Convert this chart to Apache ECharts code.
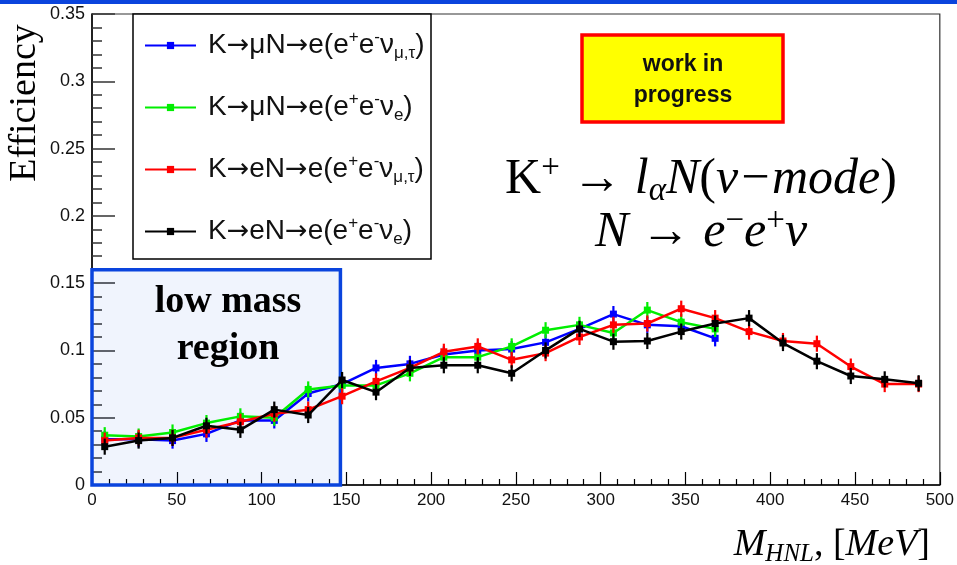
<!DOCTYPE html>
<html>
<head>
<meta charset="utf-8">
<script src="https://cdn.jsdelivr.net/npm/echarts@6/dist/echarts.min.js"></script>
<style>
  html, body { margin: 0; padding: 0; background: #fff; }
  #chart { width: 957px; height: 565px; }
</style>
</head>
<body>
<div id="chart"></div>
<script>
// HNL mass bin centres [MeV]
const masses = [7.5, 27.5, 47.5, 67.5, 87.5, 107.5, 127.5, 147.5, 167.5, 187.5,
  207.5, 227.5, 247.5, 267.5, 287.5, 307.5, 327.5, 347.5, 367.5, 387.5,
  407.5, 427.5, 447.5, 467.5, 487.5];

// Efficiency per channel (K→μN channels stop at 367.5 MeV)
const effMuNuMuTau = [0.034, 0.034, 0.033, 0.038, 0.048, 0.048, 0.068, 0.075, 0.087, 0.090,
  0.097, 0.100, 0.101, 0.106, 0.116, 0.127, 0.119, 0.118, 0.109];
const effMuNuE = [0.037, 0.036, 0.039, 0.046, 0.051, 0.050, 0.071, 0.074, 0.074, 0.083,
  0.095, 0.095, 0.103, 0.115, 0.119, 0.113, 0.130, 0.121, 0.116];
const effENuMuTau = [0.033, 0.035, 0.035, 0.041, 0.047, 0.053, 0.056, 0.066, 0.077, 0.087,
  0.099, 0.103, 0.093, 0.098, 0.110, 0.119, 0.120, 0.131, 0.124, 0.114,
  0.107, 0.105, 0.088, 0.075, 0.075];
const effENuE = [0.0285, 0.033, 0.035, 0.044, 0.041, 0.056, 0.052, 0.078, 0.069, 0.087,
  0.089, 0.089, 0.083, 0.100, 0.116, 0.1065, 0.107, 0.114, 0.120, 0.124,
  0.1055, 0.092, 0.081, 0.0785, 0.0756];

// statistical uncertainty (half length of the error bars)
const effErr = 0.006;

const seriesNames = ['K→μN→e(e⁺e⁻ν μ,τ)', 'K→μN→e(e⁺e⁻ν e)', 'K→eN→e(e⁺e⁻ν μ,τ)', 'K→eN→e(e⁺e⁻ν e)'];
const legendRich = {
  'K→μN→e(e⁺e⁻ν μ,τ)': '{n|K}{a|→}{n|μN}{a|→}{n|e(e}{sp|+}{n|e}{sp|-}{n|ν}{sb|μ,τ}{n|)}',
  'K→μN→e(e⁺e⁻ν e)': '{n|K}{a|→}{n|μN}{a|→}{n|e(e}{sp|+}{n|e}{sp|-}{n|ν}{sb|e}{n|)}',
  'K→eN→e(e⁺e⁻ν μ,τ)': '{n|K}{a|→}{n|eN}{a|→}{n|e(e}{sp|+}{n|e}{sp|-}{n|ν}{sb|μ,τ}{n|)}',
  'K→eN→e(e⁺e⁻ν e)': '{n|K}{a|→}{n|eN}{a|→}{n|e(e}{sp|+}{n|e}{sp|-}{n|ν}{sb|e}{n|)}'
};
const channelValues = [effMuNuMuTau, effMuNuE, effENuMuTau, effENuE];
const channelColors = ['#0000ff', '#00ee00', '#ff0000', '#000000'];

// low-mass region box extent in data units
const lowMassX = [0, 146.5];
const lowMassY = [0, 0.16];

const chart = echarts.init(document.getElementById('chart'), null, { renderer: 'canvas' });

const series = [];
// shaded low-mass region, drawn underneath the curves
series.push({
  type: 'line',
  name: 'lowMassBox',
  data: [],
  silent: true,
  z: 1,
  markArea: {
    silent: true,
    itemStyle: { color: 'rgba(0,64,221,0.06)', borderColor: '#0a44dd', borderWidth: 3.5 },
    data: [[{ coord: [lowMassX[0], lowMassY[0]] }, { coord: [lowMassX[1], lowMassY[1]] }]]
  }
});

channelValues.forEach((vals, k) => {
  const pts = vals.map((v, i) => [masses[i], v]);
  series.push({
    type: 'line',
    name: seriesNames[k],
    data: pts,
    symbol: 'rect',
    symbolSize: 7,
    z: 3 + k,
    lineStyle: { color: channelColors[k], width: 2.5 },
    itemStyle: { color: channelColors[k] }
  });
  series.push({
    type: 'custom',
    name: seriesNames[k] + ' err',
    data: vals.map((v, i) => [masses[i], v - effErr, v + effErr]),
    encode: { x: 0, y: [1, 2] },
    z: 3 + k,
    silent: true,
    renderItem: function (params, api) {
      const lo = api.coord([api.value(0), api.value(1)]);
      const hi = api.coord([api.value(0), api.value(2)]);
      return {
        type: 'line',
        shape: { x1: lo[0], y1: lo[1], x2: hi[0], y2: hi[1] },
        style: { stroke: channelColors[k], lineWidth: 2.2 }
      };
    }
  });
});

const supStyle = { fontSize: 17, lineHeight: 15, verticalAlign: 'top', fontFamily: 'Liberation Sans', color: '#111' };
const subStyle = { fontSize: 17, lineHeight: 15, verticalAlign: 'bottom', fontFamily: 'Liberation Sans', color: '#111' };

const fSerif = 'Liberation Serif';
const mathRich = {
  u: { fontSize: 50, lineHeight: 56, fontFamily: fSerif, color: '#000' },
  i: { fontSize: 50, lineHeight: 56, fontFamily: fSerif, fontStyle: 'italic', color: '#000' },
  sp: { fontSize: 33, lineHeight: 32, verticalAlign: 'top', fontFamily: fSerif, color: '#000' },
  sb: { fontSize: 33, lineHeight: 32, verticalAlign: 'bottom', fontFamily: fSerif, fontStyle: 'italic', color: '#000' }
};

chart.setOption({
  animation: false,
  backgroundColor: '#ffffff',
  grid: { left: 92, right: 15, top: 14, bottom: 80, show: true, borderColor: '#333', borderWidth: 1.2, backgroundColor: 'transparent' },
  xAxis: {
    type: 'value', min: 0, max: 500, interval: 50,
    axisLine: { lineStyle: { color: '#000', width: 1.5 } },
    axisTick: { inside: true, length: 13, lineStyle: { color: '#000', width: 1.2 } },
    minorTick: { show: true, splitNumber: 5, length: 6, lineStyle: { color: '#000', width: 1.2 } },
    axisLabel: { margin: 7, fontSize: 17, color: '#111', fontFamily: 'Liberation Sans' },
    splitLine: { show: false }
  },
  yAxis: {
    type: 'value', min: 0, max: 0.35, interval: 0.05,
    axisLine: { show: true, lineStyle: { color: '#000', width: 1.5 } },
    axisTick: { inside: true, length: 23, lineStyle: { color: '#333', width: 1.5 } },
    minorTick: { show: true, splitNumber: 5, length: 10, lineStyle: { color: '#333', width: 1.5 } },
    axisLabel: { margin: 7, fontSize: 18, color: '#111', fontFamily: 'Liberation Sans' },
    splitLine: { show: false }
  },
  legend: {
    data: seriesNames,
    orient: 'vertical',
    left: 144,
    top: 29,
    z: 20,
    itemWidth: 51,
    itemHeight: 9,
    itemGap: 29,
    padding: 0,
    selectedMode: false,
    formatter: function (name) { return legendRich[name]; },
    textStyle: {
      padding: [0, 0, 0, 7],
      rich: {
        n: { fontSize: 28, lineHeight: 33, fontFamily: 'Liberation Sans', color: '#111' },
        a: { fontSize: 27, lineHeight: 33, fontFamily: 'DejaVu Sans', color: '#111' },
        sp: supStyle,
        sb: subStyle
      }
    }
  },
  graphic: [
    // header rule
    { type: 'rect', shape: { x: 0, y: 0, width: 957, height: 4 }, style: { fill: '#0a44dd' }, z: 10 },
    // legend frame
    { type: 'rect', shape: { x: 133, y: 14, width: 298, height: 245 }, style: { fill: '#ffffff', stroke: '#000', lineWidth: 1.5 }, z: 15 },
    // "work in progress" badge
    { type: 'rect', shape: { x: 582, y: 35, width: 201, height: 87 }, style: { fill: '#ffff00', stroke: '#ff0000', lineWidth: 3.5 }, z: 15 },
    { type: 'text', x: 683, y: 65, z: 16, style: { text: 'work in', fontSize: 23, fontWeight: 'bold', fontFamily: 'Liberation Sans', fill: '#111', align: 'center', verticalAlign: 'middle' } },
    { type: 'text', x: 683, y: 96, z: 16, style: { text: 'progress', fontSize: 23, fontWeight: 'bold', fontFamily: 'Liberation Sans', fill: '#111', align: 'center', verticalAlign: 'middle' } },
    // decay chain
    { type: 'text', x: 701, y: 180, z: 16, style: {
        text: '{u|K}{sp|+}{u| → }{i|l}{sb|α}{i|N}{u|(}{i|ν−mode}{u|)}',
        align: 'center', verticalAlign: 'middle', rich: mathRich } },
    { type: 'text', x: 701, y: 233, z: 16, style: {
        text: '{i|N}{u| → }{i|e}{sp|−}{i|e}{sp|+}{i|ν}',
        align: 'center', verticalAlign: 'middle', rich: mathRich } },
    // low mass region label
    { type: 'text', x: 228, y: 302, z: 16, style: { text: 'low mass', fontSize: 38, fontWeight: 'bold', fontFamily: fSerif, fill: '#000', align: 'center', verticalAlign: 'middle' } },
    { type: 'text', x: 228, y: 349, z: 16, style: { text: 'region', fontSize: 38, fontWeight: 'bold', fontFamily: fSerif, fill: '#000', align: 'center', verticalAlign: 'middle' } },
    // y axis title
    { type: 'text', x: 25, y: 103, rotation: Math.PI / 2, z: 16, style: { text: 'Efficiency', fontSize: 38, fontFamily: fSerif, fill: '#000', align: 'center', verticalAlign: 'middle' } },
    // x axis title
    { type: 'text', x: 930, y: 545, z: 16, style: {
        text: '{i|M}{sb|HNL}{u|, [}{i|MeV}{u|]}',
        align: 'right', verticalAlign: 'middle',
        rich: {
          u: { fontSize: 38, lineHeight: 44, fontFamily: fSerif, color: '#000' },
          i: { fontSize: 38, lineHeight: 44, fontFamily: fSerif, fontStyle: 'italic', color: '#000' },
          sb: { fontSize: 25, lineHeight: 24, verticalAlign: 'bottom', fontFamily: fSerif, fontStyle: 'italic', color: '#000' }
        } } }
  ],
  series: series
});
</script>
</body>
</html>
